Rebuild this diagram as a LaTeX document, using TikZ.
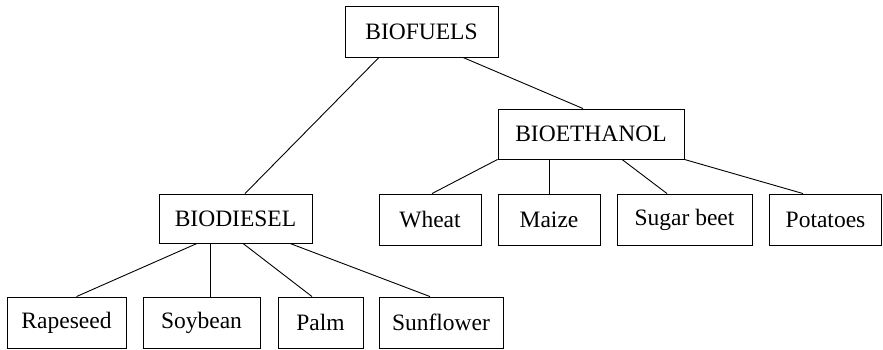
\documentclass[tikz,border=0pt]{standalone}
\usepackage{fontspec}
\setmainfont{Liberation Serif}
\newfontfamily\tnrfont{Liberation Serif}
\begin{document}
\begin{tikzpicture}[x=1pt,y=-1pt,
  box/.style={draw, line width=0.9pt, inner sep=0pt, font=\tnrfont\fontsize{23.5}{28}\selectfont},
  link/.style={line width=0.9pt}]
\useasboundingbox (0,0) rectangle (883,349);
\node[box, minimum width=153, minimum height=51] (bf) at (421.5,31.5) {BIOFUELS};
\node[box, minimum width=186, minimum height=50] (be) at (591,134) {BIOETHANOL};
\node[box, minimum width=153, minimum height=49] (bd) at (235.5,218.5) {BIODIESEL};
\node[box, minimum width=102, minimum height=51] (wh) at (430,219.5) {Wheat};
\node[box, minimum width=102, minimum height=51] (mz) at (549,219.5) {Maize};
\node[box, minimum width=135, minimum height=51] (sb) at (684.5,219.5) {Sugar beet};
\node[box, minimum width=112, minimum height=51] (po) at (825.5,219.5) {Potatoes};
\node[box, minimum width=119, minimum height=51] (ra) at (66.5,322.5) {Rapeseed};
\node[box, minimum width=117, minimum height=51] (so) at (201.5,322.5) {Soybean};
\node[box, minimum width=85, minimum height=51] (pa) at (320.5,322.5) {Palm};
\node[box, minimum width=124, minimum height=51] (su) at (441,322.5) {Sunflower};
\draw[link] ([xshift=-42.5]bf.south) -- ([xshift=9.5]bd.north);
\draw[link] ([xshift=41.5]bf.south) -- ([xshift=-8]be.north);
\draw[link] (be.south west) -- ([xshift=2]wh.north);
\draw[link] ([xshift=-42]be.south) -- (mz.north);
\draw[link] ([xshift=31]be.south) -- ([xshift=-17.5]sb.north);
\draw[link] (be.south east) -- ([xshift=-22.5]po.north);
\draw[link] ([xshift=-38.5]bd.south) -- ([xshift=10]ra.north);
\draw[link] ([xshift=-25.5]bd.south) -- ([xshift=8.5]so.north);
\draw[link] ([xshift=7.5]bd.south) -- ([xshift=-8.5]pa.north);
\draw[link] ([xshift=54.5]bd.south) -- ([xshift=-11]su.north);
\end{tikzpicture}
\end{document}
